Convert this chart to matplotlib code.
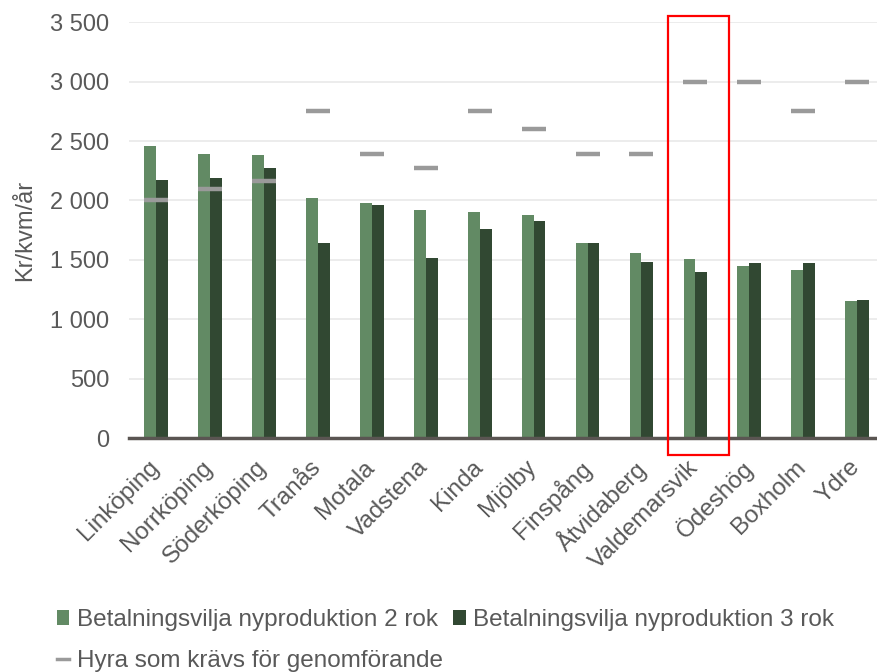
import numpy as np
import matplotlib.pyplot as plt
import matplotlib.transforms as mtransforms
from matplotlib.patches import Rectangle
from matplotlib.lines import Line2D
from matplotlib.ticker import FuncFormatter

plt.rcParams['font.family'] = ['Liberation Sans', 'DejaVu Sans']

kommuner = ["Linköping", "Norrköping", "Söderköping", "Tranås", "Motala", "Vadstena",
            "Kinda", "Mjölby", "Finspång", "Åtvidaberg", "Valdemarsvik", "Ödeshög",
            "Boxholm", "Ydre"]
vilja_2rok = [2460, 2395, 2385, 2020, 1975, 1920, 1900, 1880, 1645, 1555, 1505, 1445, 1415, 1150]
vilja_3rok = [2170, 2185, 2275, 1645, 1960, 1515, 1760, 1830, 1645, 1485, 1400, 1470, 1470, 1165]
hyra_krav = [2000, 2100, 2160, 2750, 2390, 2270, 2750, 2600, 2390, 2390, 3000, 3000, 2750, 3000]

green = '#628a64'
dark = '#314832'
grey = '#9a9a9a'
text_col = '#595959'

fig = plt.figure(figsize=(8.78, 6.72), dpi=100)
ax = fig.add_axes([0.147, 0.348, 0.86, 0.619])

x = np.arange(len(kommuner))
w = 0.22
b2 = ax.bar(x - w / 2, vilja_2rok, w, color=green, zorder=2)
b3 = ax.bar(x + w / 2, vilja_3rok, w, color=dark, zorder=2)
ax.plot(x, hyra_krav, linestyle='none', marker='_', markersize=17, markeredgewidth=3.2,
        color=grey, zorder=3)

ax.set_xlim(-0.5, len(kommuner) - 0.5)
ax.set_ylim(0, 3500)
ax.set_yticks(np.arange(0, 3501, 500))
ax.yaxis.set_major_formatter(FuncFormatter(lambda v, p: f"{int(v):,}".replace(",", " ")))
ax.grid(axis='y', color='#e9e9e9', linewidth=1.2, zorder=0)
ax.set_axisbelow(True)
for s in ['top', 'right', 'left']:
    ax.spines[s].set_visible(False)
ax.spines['bottom'].set_color('#5a5552')
ax.spines['bottom'].set_linewidth(2.5)
ax.tick_params(axis='both', length=0, colors=text_col)
ax.tick_params(axis='y', pad=14, labelsize=17)
ax.tick_params(axis='x', pad=13)
ax.set_xticks(x)
ax.set_xticklabels(kommuner, rotation=45, ha='right', rotation_mode='anchor', fontsize=17.5)
shift = mtransforms.ScaledTranslation(-6 / 72, 0, fig.dpi_scale_trans)
for lab in ax.get_xticklabels():
    lab.set_transform(lab.get_transform() + shift)
ax.set_ylabel('Kr/kvm/år', color=text_col, fontsize=17, labelpad=10)

# markering av Valdemarsvik
ax.add_patch(Rectangle((9.5, -145), 1.13, 3695, fill=False, edgecolor='#ff0000',
                       linewidth=1.6, clip_on=False, zorder=4))

hyra_handle = Line2D([], [], color=grey, linewidth=2.5)
handles = [b2, hyra_handle, b3]
labels = ['Betalningsvilja nyproduktion 2 rok', 'Hyra som krävs för genomförande',
          'Betalningsvilja nyproduktion 3 rok']
fig.legend(handles, labels, ncol=2, loc='upper left',
           bbox_to_anchor=(0.065, 0.094), frameon=False, fontsize=17.5, labelcolor=text_col,
           handlelength=0.5, handleheight=0.55, handletextpad=0.3, columnspacing=0.45,
           labelspacing=0.8, borderaxespad=0, borderpad=0)

fig.savefig('out.png', dpi=100)
